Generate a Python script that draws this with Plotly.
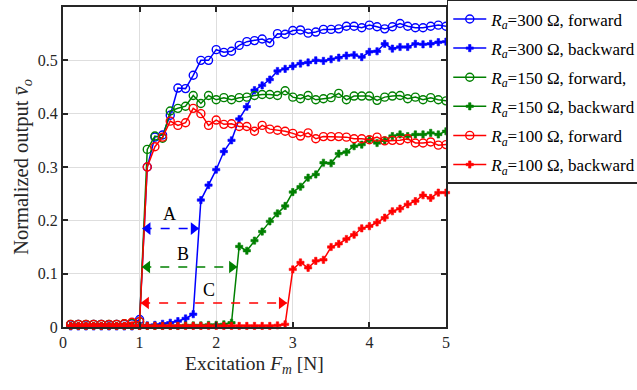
import plotly.graph_objects as go

# ---------------- data ----------------
F = [0.1, 0.2, 0.3, 0.4, 0.5, 0.6, 0.7, 0.8, 0.9, 1.0,
     1.1, 1.2, 1.3, 1.4, 1.5, 1.6, 1.7, 1.8, 1.9, 2.0,
     2.1, 2.2, 2.3, 2.4, 2.5, 2.6, 2.7, 2.8, 2.9, 3.0,
     3.1, 3.2, 3.3, 3.4, 3.5, 3.6, 3.7, 3.8, 3.9, 4.0,
     4.1, 4.2, 4.3, 4.4, 4.5, 4.6, 4.7, 4.8, 4.9, 5.0]

blue_fwd = [0.004, 0.005, 0.004, 0.005, 0.005, 0.004, 0.005, 0.005, 0.006, 0.014,
            0.300, 0.356, 0.360, 0.397, 0.448, 0.447, 0.472, 0.500, 0.500, 0.520,
            0.515, 0.517, 0.528, 0.535, 0.537, 0.540, 0.533, 0.550, 0.549, 0.556,
            0.557, 0.551, 0.553, 0.558, 0.558, 0.559, 0.564, 0.564, 0.561, 0.566,
            0.563, 0.559, 0.563, 0.569, 0.564, 0.561, 0.561, 0.564, 0.566, 0.564]

blue_bwd = [0.001, 0.001, 0.001, 0.001, 0.001, 0.001, 0.001, 0.001, 0.001, 0.002,
            0.003, 0.004, 0.006, 0.008, 0.011, 0.016, 0.024, 0.238, 0.266, 0.295,
            0.329, 0.350, 0.390, 0.413, 0.444, 0.453, 0.464, 0.480, 0.484, 0.489,
            0.494, 0.496, 0.500, 0.499, 0.502, 0.505, 0.509, 0.510, 0.506, 0.516,
            0.517, 0.531, 0.522, 0.525, 0.525, 0.531, 0.530, 0.531, 0.534, 0.535]

green_fwd = [0.005, 0.005, 0.005, 0.005, 0.005, 0.005, 0.005, 0.006, 0.007, 0.010,
             0.333, 0.358, 0.354, 0.405, 0.410, 0.414, 0.434, 0.419, 0.434, 0.426,
             0.430, 0.426, 0.430, 0.431, 0.434, 0.436, 0.436, 0.434, 0.443, 0.431,
             0.428, 0.434, 0.426, 0.428, 0.430, 0.438, 0.426, 0.433, 0.433, 0.433,
             0.425, 0.431, 0.433, 0.434, 0.428, 0.431, 0.426, 0.430, 0.426, 0.424]

green_bwd = [0.002, 0.002, 0.002, 0.002, 0.002, 0.002, 0.002, 0.002, 0.002, 0.002,
             0.002, 0.002, 0.002, 0.002, 0.002, 0.003, 0.003, 0.003, 0.004, 0.004,
             0.005, 0.008, 0.151, 0.143, 0.162, 0.179, 0.198, 0.213, 0.227, 0.253,
             0.263, 0.280, 0.286, 0.308, 0.307, 0.325, 0.328, 0.339, 0.342, 0.351,
             0.345, 0.350, 0.358, 0.361, 0.358, 0.361, 0.361, 0.364, 0.361, 0.367]

red_fwd = [0.005, 0.005, 0.005, 0.005, 0.005, 0.005, 0.005, 0.006, 0.009, 0.010,
           0.300, 0.338, 0.356, 0.386, 0.378, 0.383, 0.410, 0.400, 0.378, 0.388,
           0.380, 0.381, 0.376, 0.376, 0.367, 0.378, 0.371, 0.369, 0.367, 0.363,
           0.358, 0.364, 0.353, 0.357, 0.357, 0.357, 0.356, 0.353, 0.353, 0.351,
           0.356, 0.349, 0.350, 0.350, 0.353, 0.345, 0.345, 0.347, 0.341, 0.342]

red_bwd = [0.002, 0.002, 0.002, 0.002, 0.002, 0.002, 0.002, 0.002, 0.002, 0.002,
           0.002, 0.002, 0.002, 0.002, 0.002, 0.002, 0.002, 0.002, 0.002, 0.002,
           0.002, 0.002, 0.002, 0.002, 0.002, 0.002, 0.002, 0.003, 0.005, 0.108,
           0.121, 0.111, 0.124, 0.126, 0.150, 0.156, 0.165, 0.173, 0.185, 0.189,
           0.196, 0.205, 0.217, 0.222, 0.230, 0.236, 0.247, 0.242, 0.252, 0.252]

series_names = [
    "<i>R</i><sub><i>a</i></sub>=300 Ω, forward",
    "<i>R</i><sub><i>a</i></sub>=300 Ω, backward",
    "<i>R</i><sub><i>a</i></sub>=150 Ω, forward,",
    "<i>R</i><sub><i>a</i></sub>=150 Ω, backward",
    "<i>R</i><sub><i>a</i></sub>=100 Ω, forward",
    "<i>R</i><sub><i>a</i></sub>=100 Ω, backward",
]
series_values = [blue_fwd, blue_bwd, green_fwd, green_bwd, red_fwd, red_bwd]
series_colors = ["#0000ff", "#0000ff", "#008000", "#008000", "#ff0000", "#ff0000"]
series_kind = ["fwd", "bwd", "fwd", "bwd", "fwd", "bwd"]

# hysteresis gap arrows: label, start F, end F, level, colour, label position
arrow_labels = ["A", "B", "C"]
arrow_start = [1.04, 1.035, 1.02]
arrow_end = [1.77, 2.27, 2.92]
arrow_level = [0.1845, 0.1125, 0.045]
arrow_colors = ["#0000ff", "#008000", "#ff0000"]
label_x = [1.385, 1.56, 1.91]
label_y = [0.2125, 0.136, 0.069]

FONT = "Liberation Serif"

fig = go.Figure()

for i, (name, vals, col, kind) in enumerate(zip(series_names, series_values, series_colors, series_kind)):
    if kind == "fwd":
        marker = dict(symbol="circle-open", size=8, color=col, line=dict(width=1.4, color=col))
    else:
        marker = dict(symbol="cross", size=6, color=col, line=dict(width=0.6, color=col))
    fig.add_trace(go.Scatter(
        x=F, y=vals, name=name, mode="lines+markers", legendgroup="g%d" % i,
        line=dict(color=col, width=1.5), marker=marker, cliponaxis=False,
    ))

# arrows (dashed line with triangular heads)
px_per_unit = (446 - 63.5) / 5.0
head_off = 5.0 / px_per_unit
for s, e, lv, col in zip(arrow_start, arrow_end, arrow_level, arrow_colors):
    fig.add_trace(go.Scatter(
        x=[s, e], y=[lv, lv], mode="lines", showlegend=False, hoverinfo="skip",
        line=dict(color=col, width=1.5, dash="dash"),
    ))
    fig.add_trace(go.Scatter(
        x=[s + head_off, e - head_off], y=[lv, lv], mode="markers", showlegend=False,
        hoverinfo="skip",
        marker=dict(symbol=["triangle-left", "triangle-right"], size=11, color=col,
                    line=dict(width=0)),
    ))

for lab, lx, ly in zip(arrow_labels, label_x, label_y):
    fig.add_annotation(x=lx, y=ly, text=lab, showarrow=False,
                       font=dict(family=FONT, size=18, color="black"))

axis_common = dict(
    showline=True, linecolor="#262626", linewidth=2, mirror="ticks",
    ticks="inside", ticklen=5, tickwidth=1.5, tickcolor="#262626",
    showgrid=True, gridcolor="#dedede", gridwidth=1.2, zeroline=False,
    tickfont=dict(family=FONT, size=16, color="#262626"),
)

fig.update_layout(
    width=637, height=390,
    margin=dict(l=63, r=191, t=7, b=63, autoexpand=False),
    paper_bgcolor="white", plot_bgcolor="white",
    font=dict(family=FONT, size=16, color="#262626"),
    xaxis=dict(range=[0, 5], tickvals=[0, 1, 2, 3, 4, 5],
               title=dict(text="Excitation <i>F</i><sub><i>m</i></sub> [N]",
                          font=dict(family=FONT, size=19.5, color="#262626"), standoff=6),
               **axis_common),
    yaxis=dict(range=[0, 0.6], tickvals=[0, 0.1, 0.2, 0.3, 0.4, 0.5, 0.6],
               ticktext=["0", "0.1", "0.2", "0.3", "0.4", "0.5", "0.6"],
               title=dict(text="Normalized output <i>v\u0304</i><sub><i>o</i></sub>",
                          font=dict(family=FONT, size=20.5, color="#262626"), standoff=4),
               **axis_common),
    legend=dict(x=1.002, xanchor="left", y=1.022, yanchor="top",
                bgcolor="white", bordercolor="#262626", borderwidth=1.5,
                font=dict(family=FONT, size=17, color="black"),
                itemwidth=33, tracegroupgap=4),
    showlegend=True,
)

fig.write_html("out.html")
